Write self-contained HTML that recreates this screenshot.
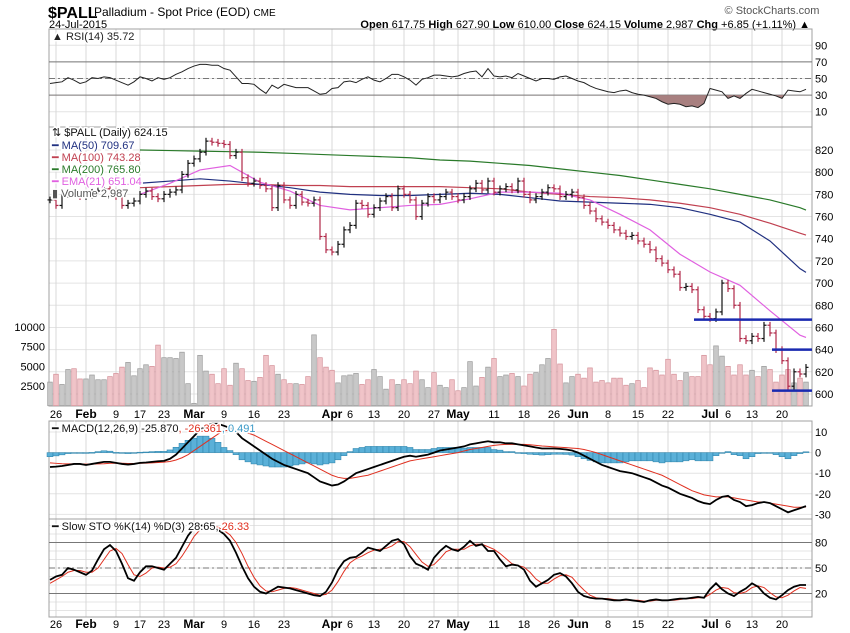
<!DOCTYPE html>
<html><head><meta charset="utf-8">
<style>
body{margin:0;background:#fff;}
svg{display:block;font-family:"Liberation Sans",sans-serif;}
</style></head>
<body>
<svg id="c" width="850" height="633" viewBox="0 0 850 633">
<text x="48" y="18" font-size="16" font-weight="bold">$PALL</text>
<text x="94" y="16" font-size="12">Palladium - Spot Price (EOD) <tspan font-size="10">CME</tspan></text>
<text x="49" y="28" font-size="11">24-Jul-2015</text>
<text x="772" y="14" font-size="11" fill="#555" text-anchor="middle">© StockCharts.com</text>
<text x="810" y="28" font-size="11" text-anchor="end"><tspan font-weight="bold">Open</tspan> 617.75  <tspan font-weight="bold">High</tspan> 627.90  <tspan font-weight="bold">Low</tspan> 610.00  <tspan font-weight="bold">Close</tspan> 624.15  <tspan font-weight="bold">Volume</tspan> 2,987  <tspan font-weight="bold">Chg</tspan> +6.85 (+1.11%) ▲</text>
<g id="grid"></g>
<g id="marks"></g>
<g id="labels"></g>
</svg>
<script>
const closes=[775,770,780,782,780,778,779,782,783,785,782,778,770,772,774,780,783,778,776,780,782,784,798,808,812,818,828,827,826,825,815,818,795,790,792,788,785,768,788,775,770,780,773,772,775,742,730,728,735,748,752,772,770,762,768,774,778,768,785,780,775,760,772,778,775,778,782,778,775,778,785,790,784,792,782,785,787,784,792,780,775,778,782,786,785,778,780,782,777,770,765,758,755,752,748,745,742,743,738,735,730,722,718,712,708,696,697,694,676,670,668,674,700,695,680,650,648,652,650,662,655,640,630,607,620,618,624];
const volumes=[3.0,4.0,2.7,4.6,4.7,3.4,3.4,3.9,3.3,3.3,3.7,4.1,4.9,5.5,3.8,4.7,5.2,5.0,7.7,6.1,6.1,6.0,6.8,2.8,0.3,6.4,4.4,4.0,2.8,4.7,2.6,5.4,4.7,3.2,3.1,3.6,6.4,5.1,4.0,3.3,2.8,2.8,2.7,3.7,9.0,6.1,4.9,4.5,2.9,3.8,3.9,4.1,2.7,3.3,4.6,3.7,2.1,3.3,2.7,3.3,2.8,4.4,3.3,2.3,4.2,2.6,2.3,3.3,1.9,2.3,5.6,2.5,3.6,4.9,6.0,3.7,3.9,4.1,3.7,2.5,4.0,4.2,5.2,6.0,9.7,5.3,2.9,3.7,4.0,3.5,4.8,3.0,3.2,2.9,3.5,3.5,2.6,2.8,3.2,2.3,4.8,4.5,3.9,5.9,4.0,3.2,4.2,3.7,3.7,6.4,5.2,7.6,6.3,5.0,3.9,5.2,3.9,4.5,3.7,5.0,4.6,3.0,3.9,4.6,2.9,3.5,3.0];
const rsi=[44,45,46,51,48,44,46,51,50,52,51,48,45,42,46,52,50,47,51,49,51,55,58,62,65,67,67,66,66,62,60,52,44,44,43,37,32,42,38,43,41,39,39,39,35,31,32,38,39,46,47,45,49,52,48,46,50,55,55,52,48,42,49,51,54,54,53,52,53,56,58,59,52,62,53,52,53,51,56,53,50,47,50,50,49,52,53,50,47,45,41,38,36,34,33,35,36,33,31,30,28,26,22,19,20,19,16,17,15,20,38,36,34,26,29,26,32,37,35,33,31,29,26,36,35,34,37];
const macd=[-7,-6.8,-6.5,-6,-5.5,-5.5,-6,-5.5,-5,-4.5,-4.5,-5,-5.5,-5.8,-5.5,-5,-4.8,-4.5,-4.2,-4,-3,-1,2,5,8,11,13,14,14,13,12,10,7,5,3,1,-1,-3,-4.5,-6,-7,-8,-9,-10,-12,-14,-15,-16,-15.5,-14,-12,-10,-9,-8,-7,-6,-5,-4,-3,-2,-1.5,-2,-1.5,-1,0,1,1.5,2,2.5,3,4,4.5,5,5.5,5,5,4.5,4.5,4,3.5,3,2.5,2,2,2,1.8,1.5,1,0,-1.5,-3,-4.5,-6,-7,-8,-9,-9.5,-10,-11,-12,-13,-14.5,-16,-17,-18.5,-20,-21,-22,-23.5,-24.5,-25,-23,-21.5,-21,-23,-24,-26,-25.5,-24.5,-24,-24.5,-26,-27.5,-29,-28,-27,-26];
const signal=[-5,-5.2,-5.4,-5.5,-5.5,-5.5,-5.6,-5.6,-5.5,-5.4,-5.2,-5.1,-5.2,-5.3,-5.3,-5.2,-5.1,-5,-4.8,-4.6,-4.3,-3.6,-2.5,-1,1,3,5,7,9,10.5,11,11,10.5,9.5,8.5,7,5.5,4,2.5,1,-0.5,-2,-3.5,-5,-6.5,-8,-9.5,-11,-12,-12.5,-12.5,-12,-11.5,-11,-10,-9,-8,-7,-6,-5,-4,-3.5,-3,-2.5,-2,-1.5,-1,-0.5,0,0.8,1.5,2,2.5,3,3.5,3.8,4,4,4,4,3.8,3.5,3.2,3,2.8,2.6,2.4,2.2,2,1.5,0.8,0,-1,-2,-3,-4,-5,-6,-7,-8,-9,-10,-11,-12.5,-14,-15.5,-17,-18.5,-19.5,-20.5,-21,-21.5,-21.5,-21.5,-22,-22.5,-23,-23.5,-24,-24,-24.5,-25,-25.5,-26,-26.5,-26.5,-26.4];
const stoK=[36,40,42,50,48,45,42,47,60,72,77,70,55,38,35,45,52,52,50,48,55,62,75,88,97,100,100,98,95,90,82,68,52,38,28,22,20,24,28,27,26,24,22,20,18,17,22,33,48,58,62,63,68,74,72,70,76,82,84,78,64,55,52,48,62,70,76,72,70,75,82,76,78,70,70,60,52,54,53,48,35,28,32,36,42,44,40,32,22,17,15,14,14,13,12,12,13,12,11,10,12,13,12,12,13,14,14,15,16,15,25,32,25,20,17,22,26,32,28,20,15,13,18,24,28,30,30];
const stoD=[32,36,40,45,47,47,45,45,50,60,70,73,67,54,42,40,44,50,51,50,51,55,64,75,87,95,99,99,98,94,89,80,67,52,39,29,23,22,24,26,27,26,24,22,20,18,19,24,34,46,56,61,64,68,71,72,73,76,81,81,75,66,57,52,54,61,69,72,72,72,76,78,78,75,72,67,61,55,53,51,45,37,32,32,37,41,42,39,31,24,18,15,14,14,13,12,12,12,12,11,11,12,12,12,12,13,14,14,15,15,19,24,27,26,21,20,22,27,29,27,21,16,15,18,23,27,26];
const maStart=15, maStep=5;
const ma200=[820,819.5,819,818.5,818,817,816,815,814,813,811,810,808,806,803,800,797,793,789,785,780,775,768,765.8];
const ma50=[790,792,794,792,789,786,782,780,779,779,780,781,780,777,774,773,772,771,768,762,755,738,713,709.67];
const ma100=[786,787,788,789,789,788,788,787,787,787,787,786,785,782,780,778,777,775,772,768,762,754,745,743.28];
const ema21=[780,790,802,806,791,783,770,766,768,770,771,776,782,782,781,775,762,748,726,710,698,675,653,651.04];
const dateLabels=["26","Feb","9","17","23","Mar","9","16","23","Apr","6","13","20","27","May","11","18","26","Jun","8","15","22","Jul","6","13","20"];
const dateBold=[0,1,0,0,0,1,0,0,0,1,0,0,0,0,1,0,0,0,1,0,0,0,1,0,0,0];
const dateIdx=[1,6,11,15,19,24,29,34,39,47,49,54,59,64,68,74,79,84,88,93,98,103,110,112,117,122];
const priceTicks=[820,800,780,760,740,720,700,680,660,640,620,600];
const volTicks=[10000,7500,5000,2500];
const rsiTicks=[90,70,50,30,10];
const macdTicks=[10,0,-10,-20,-30];
const stoTicks=[80,50,20];
const supports=[[667,108,126],[640,121,126],[603,121,126]];

const NS="http://www.w3.org/2000/svg";
const L=49,R=812;
const xs=i=>50+i*6;
const yP=v=>150+(820-v)*1.109;
const yV=v=>405.7-v*7.87;
const yR=v=>78.5-(v-50)*0.83;
const yM=v=>452.6-v*2.06;
const yS=v=>568-(v-50)*0.85;
const panels=[[29,127],[127,406],[421,519],[519,617]];
const G=document.getElementById('grid'),M=document.getElementById('marks'),T=document.getElementById('labels');
function mk(p,tag,a){const e=document.createElementNS(NS,tag);for(const k in a)e.setAttribute(k,a[k]);p.appendChild(e);return e;}
function txt(p,x,y,s,a){const e=mk(p,'text',Object.assign({x:x,y:y,'font-size':11},a||{}));e.textContent=s;return e;}
function hgrid(ticks,f,lab){ticks.forEach(t=>{const g=mk(G,'line',{x1:L,x2:R,y1:f(t),y2:f(t),stroke:'#e4e4e4'});


if(lab){const e=txt(T,815,f(t)+4,String(t));

}});}
hgrid(rsiTicks,yR,true);hgrid(priceTicks,yP,true);hgrid(macdTicks,yM,true);hgrid([100,90,70,60,40,30,10,0],yS,false);hgrid(stoTicks,yS,true);
volTicks.forEach(t=>{const e=txt(T,45,yV(t/1000)+4,String(t),{'text-anchor':'end'});

});
dateIdx.forEach((di,k)=>{if(dateLabels[k]==="6")return;const x=xs(di);
panels.forEach(p=>{const g=mk(G,'line',{x1:x,x2:x,y1:p[0],y2:p[1],stroke:'#d8d8d8'});

});});
[414,624].forEach(yy=>{dateIdx.forEach((di,k)=>{const x=xs(di)+(dateLabels[k]==="6"?6:0);
const e=txt(T,x,yy+4,dateLabels[k],{'text-anchor':'middle','font-weight':dateBold[k]?'bold':'normal','font-size':dateBold[k]?12:11});

});});
panels.forEach(p=>{const b=mk(G,'rect',{x:L,y:p[0],width:R-L,height:p[1]-p[0],fill:'none',stroke:'#a0a0a0'});

});
[[70,''],[30,''],[50,'6,3,2,3']].forEach(l=>{const e=mk(M,'line',{x1:L,x2:R,y1:yR(l[0]),y2:yR(l[0]),stroke:'#777','stroke-dasharray':l[1]});

});
const cp=mk(M,'clipPath',{id:'below30'});mk(cp,'rect',{x:L,y:yR(30),width:R-L,height:40});
let pd='M'+xs(0)+','+yR(30);rsi.forEach((v,i)=>pd+='L'+xs(i)+','+yR(v));pd+='L'+xs(rsi.length-1)+','+yR(30)+'Z';
const rf=mk(M,'path',{d:pd,fill:'#a88080','clip-path':'url(#below30)'});


function line(arr,xf,yf,col,w,name){const pts=arr.map((v,i)=>xf(i)+','+yf(v)).join(' ');
const e=mk(M,'polyline',{points:pts,fill:'none',stroke:col,'stroke-width':w});

return e;}
line(rsi,xs,yR,'#222',1,'rsi-line');
volumes.forEach((v,i)=>{const down=i>0&&closes[i]<closes[i-1];
const b=mk(M,'rect',{x:xs(i)-2.3,y:yV(v),width:4.6,height:405.7-yV(v),fill:down?'#f0c4c8':'#c8c8c8',stroke:down?'#d49098':'#9a9a9a','stroke-width':0.7});

});
const mx=i=>xs(Math.min(maStart+i*maStep,closes.length-1));
line(ma200,mx,yP,'#2a7a2a',1.2,'ma200-line');
line(ma100,mx,yP,'#c04050',1.2,'ma100-line');
line(ma50,mx,yP,'#203080',1.2,'ma50-line');
line(ema21,mx,yP,'#e060e0',1.2,'ema21-line');
closes.forEach((c,i)=>{const o=i>0?closes[i-1]:c;const down=c<o;const col=down?'#b02848':'#111';
const hi=Math.max(o,c)+3,lo=Math.min(o,c)-3,x=xs(i);
const g=mk(M,'g',{stroke:col,'stroke-width':1.2});


mk(g,'line',{x1:x,x2:x,y1:yP(hi),y2:yP(lo)});mk(g,'line',{x1:x-2.5,x2:x,y1:yP(o),y2:yP(o)});mk(g,'line',{x1:x,x2:x+2.5,y1:yP(c),y2:yP(c)});});
supports.forEach(s=>{const e=mk(M,'line',{x1:xs(s[1])-4,x2:R,y1:yP(s[0]),y2:yP(s[0]),stroke:'#1a2ab0','stroke-width':2.5});

});
macd.forEach((v,i)=>{const h=(v-signal[i]);const y0=yM(0),y1=yM(h);
const b=mk(M,'rect',{x:xs(i)-3,y:Math.min(y0,y1),width:6,height:Math.max(0.8,Math.abs(y1-y0)),fill:'#5ab0d8',stroke:'#2a80a8','stroke-width':0.5});

});
line(signal,xs,yM,'#e03020',1,'macd-signal-line');
line(macd,xs,yM,'#000',1.8,'macd-line');
[[80,''],[20,''],[50,'6,3,2,3']].forEach(l=>{const e=mk(M,'line',{x1:L,x2:R,y1:yS(l[0]),y2:yS(l[0]),stroke:'#777','stroke-dasharray':l[1]});

});
line(stoD,xs,yS,'#e03020',1,'sto-d-line');
line(stoK,xs,yS,'#000',1.8,'sto-k-line');
function leg(y,parts,name){const bg=mk(T,'g',{});


const t=mk(bg,'text',{x:52,y:y,'font-size':11,style:'paint-order:stroke',stroke:'#fff','stroke-width':3});
parts.forEach(p=>{const s=mk(t,'tspan',{fill:p[1]});s.textContent=p[0];});}
leg(40,[['▲ RSI(14) 35.72','#222']],'rsi-legend');
leg(136,[['⇅ $PALL (Daily) 624.15','#111']],'price-legend');
leg(149,[['━ MA(50) 709.67','#203080']],'ma50-legend');
leg(161,[['━ MA(100) 743.28','#c04050']],'ma100-legend');
leg(173,[['━ MA(200) 765.80','#2a7a2a']],'ma200-legend');
leg(185,[['━ EMA(21) 651.04','#e060e0']],'ema21-legend');
leg(197,[['▮ Volume 2,987','#555']],'volume-legend');
leg(432,[['━ MACD(12,26,9) -25.870','#111'],[', -26.361','#e03020'],[', 0.491','#3a9ac8']],'macd-legend');
leg(530,[['━ Slow STO %K(14) %D(3) 28.65,','#111'],[' 26.33','#e03020']],'sto-legend');
</script>
</body></html>
